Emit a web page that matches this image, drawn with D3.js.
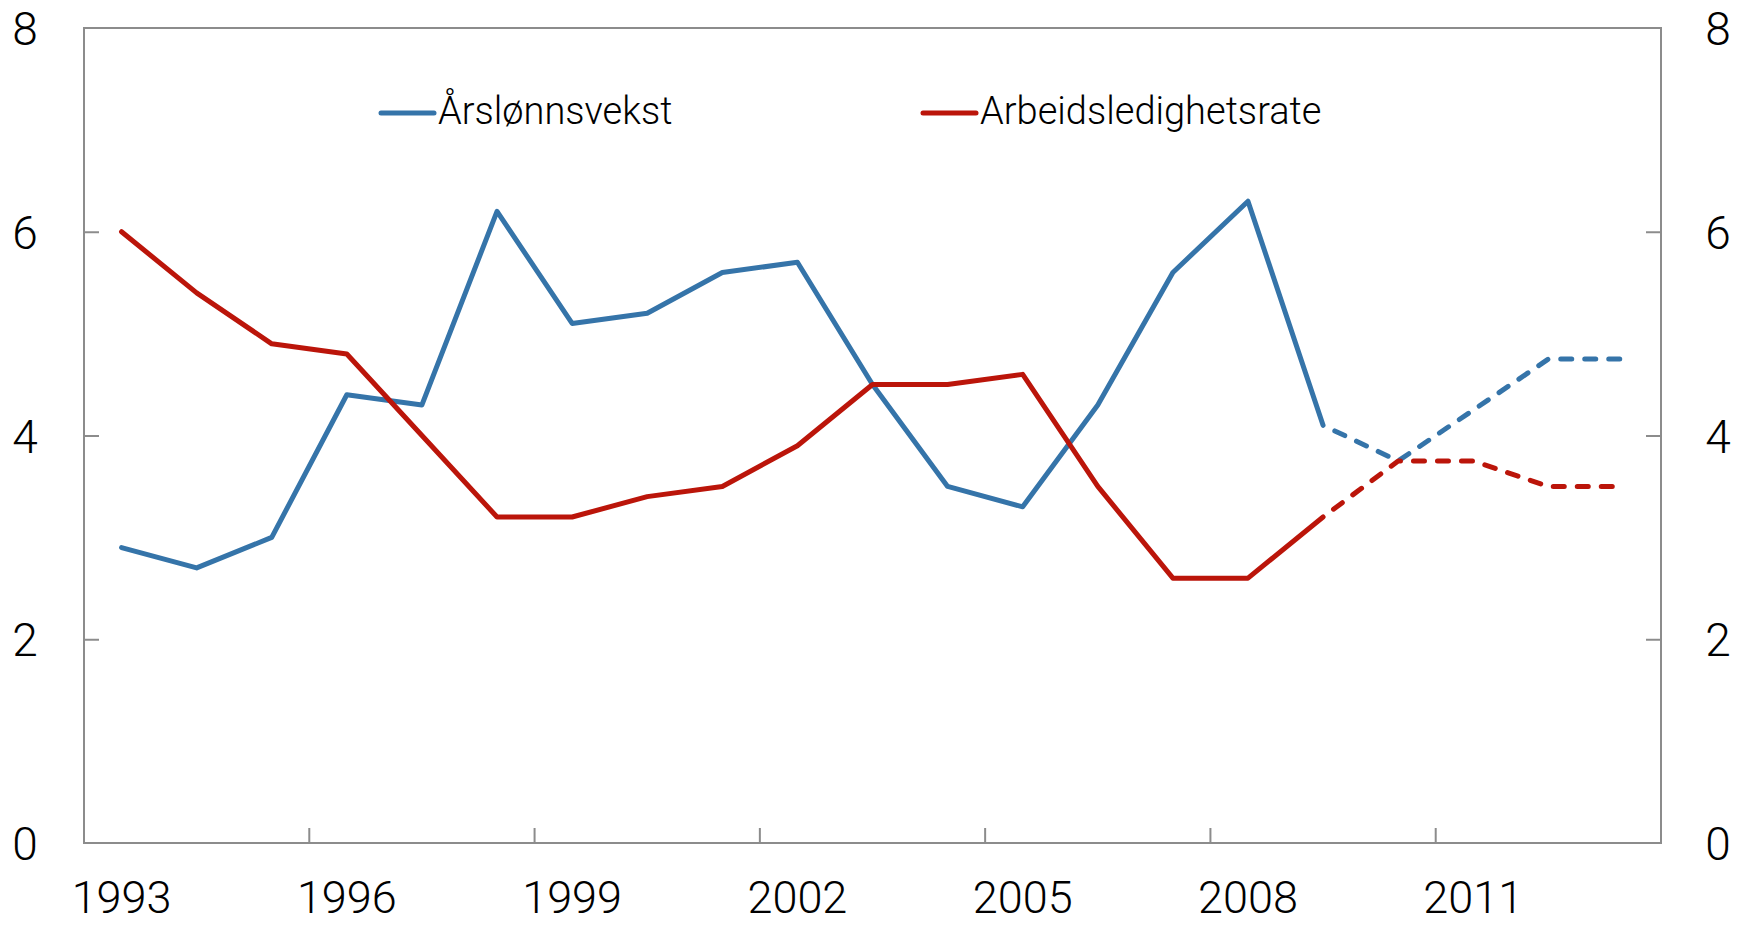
<!DOCTYPE html>
<head>
  <meta charset="utf-8">
  <script src="https://cdn.jsdelivr.net/npm/d3@7/dist/d3.min.js"></script>
  <style>
    body { margin:0; background:#fff; }
    text { font-family: Roboto, "Liberation Sans", Arial, sans-serif; font-weight:300; fill:#000; }
    .frame { fill:none; stroke:#8c8c8c; stroke-width:2; }
    .axis .tick line { stroke:#8c8c8c; stroke-width:2; }
    .axis .domain { display:none; }
  </style>
</head>
<body>
  <script>
    // years shown on the x axis
    var years = d3.range(1993, 2014);
    var yearLabels = [1993, 1996, 1999, 2002, 2005, 2008, 2011];
    var yTicks = [0, 2, 4, 6, 8];

    // Årslønnsvekst (wage growth)
    var wageGrowth = [2.9, 2.7, 3.0, 4.4, 4.3, 6.2, 5.1, 5.2, 5.6, 5.7, 4.5,
                      3.5, 3.3, 4.3, 5.6, 6.3, 4.1, 3.75, 4.25, 4.75, 4.75];
    // Arbeidsledighetsrate (unemployment rate)
    var unemployment = [6.0, 5.4, 4.9, 4.8, 4.0, 3.2, 3.2, 3.4, 3.5, 3.9, 4.5,
                        4.5, 4.6, 3.5, 2.6, 2.6, 3.2, 3.75, 3.75, 3.5, 3.5];
    // from this year on the series are projections (dashed)
    var forecastFrom = 2009;

    var series = [
      { name: "Årslønnsvekst", values: wageGrowth, color: "#3574a9", legendX: 381 },
      { name: "Arbeidsledighetsrate", values: unemployment, color: "#bb150a", legendX: 923 }
    ];

    var width = 1746, height = 927;
    var margin = { top: 28, right: 85, bottom: 84, left: 84 };

    var svg = d3.select("body").append("svg")
      .attr("width", width)
      .attr("height", height);

    var x = d3.scaleBand()
      .domain(years)
      .range([margin.left, width - margin.right]);

    var y = d3.scaleLinear()
      .domain([0, 8])
      .range([height - margin.bottom, margin.top]);

    svg.append("rect")
      .attr("class", "frame")
      .attr("x", margin.left)
      .attr("y", margin.top)
      .attr("width", width - margin.left - margin.right)
      .attr("height", height - margin.top - margin.bottom);

    // y axes, ticks pointing inward
    var yLeft = svg.append("g")
      .attr("class", "axis")
      .attr("transform", "translate(" + margin.left + ",0)")
      .call(d3.axisLeft(y).tickValues(yTicks).tickSizeInner(-15).tickSizeOuter(0));
    yLeft.selectAll(".tick line").filter(function(d) { return d == 0 || d == 8; }).remove();
    yLeft.selectAll("text")
      .attr("x", -59).attr("dy", "0.36em")
      .attr("text-anchor", "middle")
      .style("font-size", "46px");

    var yRight = svg.append("g")
      .attr("class", "axis")
      .attr("transform", "translate(" + (width - margin.right) + ",0)")
      .call(d3.axisRight(y).tickValues(yTicks).tickSizeInner(-15).tickSizeOuter(0));
    yRight.selectAll(".tick line").filter(function(d) { return d == 0 || d == 8; }).remove();
    yRight.selectAll("text")
      .attr("x", 57).attr("dy", "0.36em")
      .attr("text-anchor", "middle")
      .style("font-size", "46px");

    // x axis: labels centred on the year, tick marks at year boundaries
    var xAxis = svg.append("g")
      .attr("class", "axis")
      .attr("transform", "translate(0," + (height - margin.bottom) + ")")
      .call(d3.axisBottom(x).tickValues(yearLabels).tickSize(0).tickPadding(0));
    xAxis.selectAll("text")
      .attr("y", 54).attr("dy", "0.36em")
      .style("font-size", "45px");

    svg.append("g")
      .selectAll("line")
      .data(yearLabels.slice(1))
      .enter()
      .append("line")
      .attr("x1", function(d) { return x(d); })
      .attr("x2", function(d) { return x(d); })
      .attr("y1", height - margin.bottom)
      .attr("y2", height - margin.bottom - 15)
      .style("stroke", "#8c8c8c")
      .style("stroke-width", 2);

    var line = d3.line()
      .x(function(d) { return x(d.year) + x.bandwidth() / 2; })
      .y(function(d) { return y(d.value); });

    series.forEach(function(s) {
      var pts = years.map(function(yr, i) { return { year: yr, value: s.values[i] }; });
      var actual = pts.filter(function(d) { return d.year <= forecastFrom; });
      var forecast = pts.filter(function(d) { return d.year >= forecastFrom; });

      svg.append("path")
        .attr("d", line(actual))
        .style("fill", "none")
        .style("stroke", s.color)
        .style("stroke-width", 5)
        .style("stroke-linejoin", "round")
        .style("stroke-linecap", "round");

      svg.append("path")
        .attr("d", line(forecast))
        .style("fill", "none")
        .style("stroke", s.color)
        .style("stroke-width", 5)
        .style("stroke-dasharray", "11,13")
        .style("stroke-dashoffset", -13)
        .style("stroke-linejoin", "round")
        .style("stroke-linecap", "round");

      // legend
      svg.append("line")
        .attr("x1", s.legendX).attr("x2", s.legendX + 53)
        .attr("y1", 113).attr("y2", 113)
        .style("stroke", s.color)
        .style("stroke-width", 5)
        .style("stroke-linecap", "round");
      svg.append("text")
        .attr("x", s.legendX + 57)
        .attr("y", 124)
        .style("font-size", "38px")
        .text(s.name);
    });
  </script>
</body>
